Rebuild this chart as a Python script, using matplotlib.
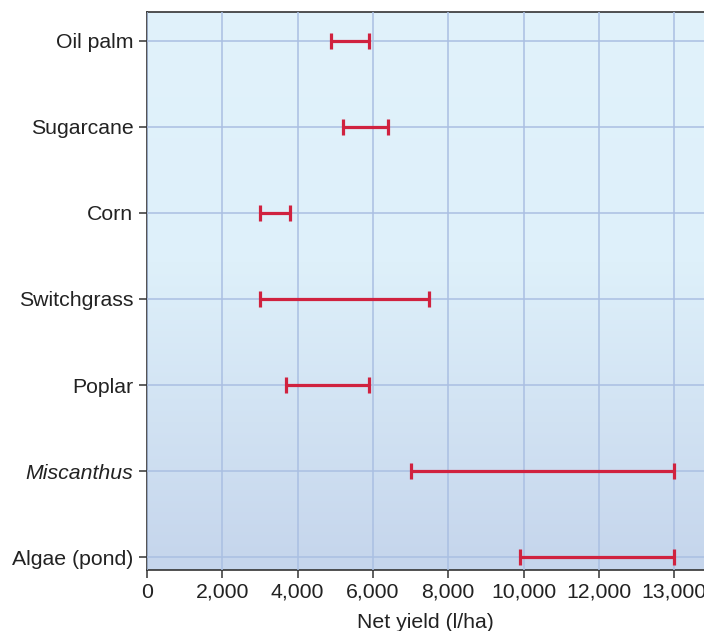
import matplotlib
matplotlib.use("Agg")
import matplotlib.pyplot as plt
import numpy as np
from matplotlib.colors import LinearSegmentedColormap

crops = ["Oil palm", "Sugarcane", "Corn", "Switchgrass", "Poplar", "Miscanthus", "Algae (pond)"]
low = [4900, 5200, 3000, 3000, 3700, 7000, 9900]
high = [5900, 6400, 3800, 7500, 5900, 14000, 14000]
xticks = [0, 2000, 4000, 6000, 8000, 10000, 12000, 14000]
xtick_labels = ["0", "2,000", "4,000", "6,000", "8,000", "10,000", "12,000", "13,000"]

plt.rcParams['font.family'] = ['Liberation Sans', 'DejaVu Sans']

fig = plt.figure(figsize=(7.04, 6.31), dpi=100)
W, H = 704, 631
ax = fig.add_axes([147 / W, (H - 570) / H, (W - 147) / W, 558 / H])

xmax = (W - 147) / 75.3 * 2000
ax.set_xlim(0, xmax)
ax.set_ylim(6.151, -0.337)

# gradient background
cmap = LinearSegmentedColormap.from_list(
    "bg", [(0.0, "#e1f2fb"), (0.45, "#def0fa"), (1.0, "#c5d5ec")])
grad = np.linspace(0, 1, 256).reshape(-1, 1)
ax.imshow(grad, cmap=cmap, aspect='auto', extent=[0, 1, 0, 1],
          transform=ax.transAxes, origin='upper', zorder=0)

ypos = np.arange(len(crops))
ax.set_xticks(xticks)
ax.set_xticklabels(xtick_labels)
ax.set_yticks(ypos)
ax.set_yticklabels(crops)
for lbl in ax.get_yticklabels():
    if lbl.get_text() == "Miscanthus":
        lbl.set_style("italic")

ax.grid(True, color="#aabfe2", linewidth=1.1, zorder=1)
ax.set_axisbelow(False)

for y, lo, hi in zip(ypos, low, high):
    ax.errorbar([(lo + hi) / 2], [y], xerr=[[(hi - lo) / 2], [(hi - lo) / 2]],
                fmt='none', ecolor="#d0223f", elinewidth=2.3, capsize=5.8,
                capthick=2.3, zorder=3)

for s in ["left", "bottom", "top"]:
    ax.spines[s].set_color("#333333")
    ax.spines[s].set_linewidth(1.2)
ax.spines["right"].set_visible(False)

ax.tick_params(axis='both', colors="#333333", labelcolor="#222222",
               labelsize=15.3, length=5.5, width=1.1, direction='out')
ax.tick_params(axis='y', pad=4.3)
ax.tick_params(axis='x', pad=3.5)
ax.set_xlabel("Net yield (l/ha)", fontsize=15.3, color="#222222", labelpad=8.5)

fig.savefig("out.png", dpi=100)
